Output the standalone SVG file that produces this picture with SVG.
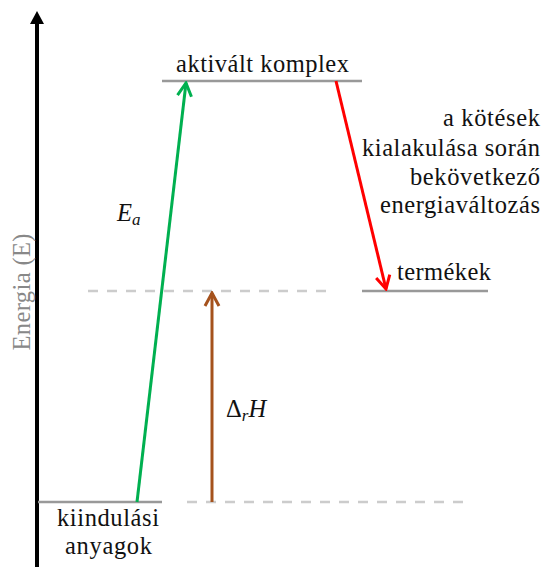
<svg xmlns="http://www.w3.org/2000/svg" width="544" height="567" viewBox="0 0 544 567">
<defs>
<style>
text{font-family:'Liberation Serif','Times New Roman',serif;font-size:24.5px;fill:#111}
.lvl{stroke:#999;stroke-width:2.5;fill:none}
.dash{stroke:#ccc;stroke-width:2.5;stroke-dasharray:10 9;fill:none}
.arr{stroke-width:3;fill:none}
</style>
<marker id="hg" viewBox="-15 -9 17 18" refX="0" refY="0" markerWidth="17" markerHeight="18" markerUnits="userSpaceOnUse" orient="auto"><path d="M-13,-7 L0,0 L-13,7" fill="none" stroke="#00b050" stroke-width="3"/></marker>
<marker id="hr" viewBox="-15 -9 17 18" refX="0" refY="0" markerWidth="17" markerHeight="18" markerUnits="userSpaceOnUse" orient="auto"><path d="M-13,-7 L0,0 L-13,7" fill="none" stroke="#ff0000" stroke-width="3"/></marker>
<marker id="hb" viewBox="-15 -9 17 18" refX="0" refY="0" markerWidth="17" markerHeight="18" markerUnits="userSpaceOnUse" orient="auto"><path d="M-13,-7 L0,0 L-13,7" fill="none" stroke="#a5521d" stroke-width="3"/></marker>
</defs>
<g id="axis">
<line x1="37" y1="22" x2="37" y2="567" stroke="#000" stroke-width="4"/>
<polygon points="37,11 30,24 44,24" fill="#000"/>
<text transform="translate(30,292) rotate(-90)" text-anchor="middle" textLength="117" style="fill:#888">Energia (E)</text>
</g>
<g id="guides">
<line class="dash" x1="88" y1="291" x2="335" y2="291"/>
<line class="dash" x1="187" y1="502" x2="465" y2="502"/>
</g>
<g id="aktivalt-komplex">
<line class="lvl" x1="162" y1="81" x2="362" y2="81"/>
<text x="176" y="72" textLength="173">aktivált komplex</text>
</g>
<g id="termekek">
<line class="lvl" x1="362" y1="291" x2="488" y2="291"/>
<text x="397" y="280" textLength="94">termékek</text>
</g>
<g id="kiindulasi-anyagok">
<line class="lvl" x1="38" y1="502" x2="162" y2="502"/>
<text x="57" y="526" textLength="102">kiindulási</text>
<text x="65" y="554" textLength="87">anyagok</text>
</g>
<g id="kotesek-label">
<text x="443" y="126" textLength="97">a kötések</text>
<text x="362" y="156" textLength="178">kialakulása során</text>
<text x="410" y="185" textLength="130">bekövetkező</text>
<text x="380" y="213" textLength="160">energiaváltozás</text>
</g>
<g id="connectors">
<line class="arr" x1="137" y1="502" x2="186" y2="83" stroke="#00b050" marker-end="url(#hg)"/>
<line class="arr" x1="336" y1="81" x2="386" y2="289" stroke="#ff0000" marker-end="url(#hr)"/>
<line class="arr" x1="212" y1="502" x2="212" y2="293" stroke="#a5521d" marker-end="url(#hb)"/>
</g>
<g id="labels">
<text x="117" y="221" font-style="italic">E<tspan font-size="17" dy="4">a</tspan></text>
<text x="226" y="417">Δ<tspan font-size="17" font-style="italic" dy="4">r</tspan><tspan font-style="italic" dy="-4">H</tspan></text>
</g>
</svg>
